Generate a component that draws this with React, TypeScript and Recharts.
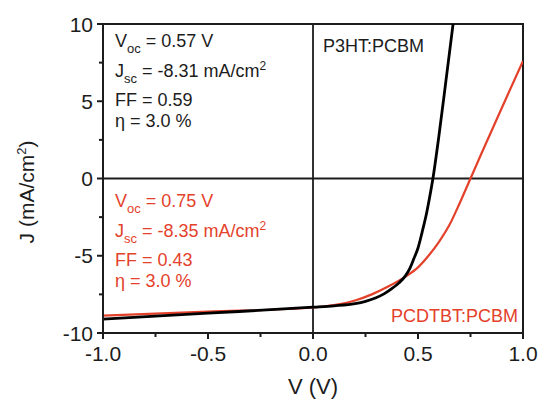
import { LineChart, Line, XAxis, YAxis, ReferenceLine, ReferenceArea } from 'recharts';

// P3HT:PCBM J-V curve (V in volts, J in mA/cm2)
const P3HT_V = [-1.0, -0.5, 0.0, 0.1, 0.2, 0.25, 0.3, 0.34, 0.38, 0.41, 0.44, 0.46, 0.48, 0.5, 0.52, 0.54, 0.555, 0.571, 0.6, 0.63, 0.667];
const P3HT_J = [-9.1, -8.72, -8.33, -8.24, -8.1, -7.95, -7.72, -7.45, -7.08, -6.75, -6.3, -5.85, -5.2, -4.5, -3.45, -2.3, -1.25, 0, 2.8, 6.0, 10];

// PCDTBT:PCBM J-V curve
const PCDTBT_V = [-1.0, -0.5, 0.0, 0.1, 0.2, 0.28, 0.36, 0.44, 0.5, 0.55, 0.6, 0.65, 0.7, 0.75, 0.8, 0.9, 1.0];
const PCDTBT_J = [-8.87, -8.62, -8.35, -8.2, -7.9, -7.5, -6.98, -6.35, -5.75, -5.0, -4.1, -3.0, -1.55, 0, 1.55, 4.6, 7.6];

const X_MAJOR = [-1.0, -0.5, 0.0, 0.5, 1.0];
const X_MINOR = [-0.75, -0.25, 0.25, 0.75];
const Y_MAJOR = [-10, -5, 0, 5, 10];
const Y_MINOR = [-7.5, -2.5, 2.5, 7.5];

const p3ht = P3HT_V.map((v, i) => ({ v, j: P3HT_J[i] }));
const pcdtbt = PCDTBT_V.map((v, i) => ({ v, j: PCDTBT_J[i] }));

const INK = '#1c1c1c';
const RED = '#e4412b';
const FONT = '"Liberation Sans", Arial, sans-serif';

const XTick = ({ x, y, payload }: any) => {
  const major = X_MAJOR.includes(payload.value);
  return (
    <g>
      <line x1={x} x2={x} y1={y} y2={y + (major ? 6 : 4)} stroke={INK} strokeWidth={2} />
      {major && (
        <text x={x} y={y + 28} textAnchor="middle" fontSize={21} fill={INK} fontFamily={FONT}>
          {payload.value.toFixed(1)}
        </text>
      )}
    </g>
  );
};

const YTick = ({ x, y, payload }: any) => {
  const major = Y_MAJOR.includes(payload.value);
  return (
    <g>
      <line x1={x - (major ? 6 : 4)} x2={x} y1={y} y2={y} stroke={INK} strokeWidth={2} />
      {major && (
        <text x={x - 10} y={y} dy="0.36em" textAnchor="end" fontSize={21} fill={INK} fontFamily={FONT}>
          {payload.value}
        </text>
      )}
    </g>
  );
};

const Stats = ({ x, y, color, voc, jsc, ff, eta }: any) => (
  <g fill={color} fontFamily={FONT} fontSize={18}>
    <text x={x} y={y}>
      V<tspan fontSize={13} dy={6}>oc</tspan>
      <tspan dy={-6}> = {voc} V</tspan>
    </text>
    <text x={x} y={y + 30}>
      J<tspan fontSize={13} dy={6}>sc</tspan>
      <tspan dy={-6}> = {jsc} mA/cm</tspan>
      <tspan fontSize={12} dy={-7}>2</tspan>
    </text>
    <text x={x} y={y + 59}>FF = {ff}</text>
    <text x={x} y={y + 80}>η = {eta} %</text>
  </g>
);

export default function App() {
  return (
    <div style={{ position: 'absolute', left: 0, top: 0, background: '#fff' }}>
      <LineChart width={539} height={400} margin={{ top: 24, right: 16, bottom: 0, left: 0 }}>
        <XAxis
          type="number"
          dataKey="v"
          domain={[-1, 1]}
          ticks={[...X_MAJOR, ...X_MINOR]}
          interval={0}
          allowDataOverflow
          height={67}
          tickSize={0}
          tickMargin={0}
          tickLine={false}
          axisLine={{ stroke: INK, strokeWidth: 2 }}
          tick={<XTick />}
        />
        <YAxis
          type="number"
          domain={[-10, 10]}
          ticks={[...Y_MAJOR, ...Y_MINOR]}
          interval={0}
          allowDataOverflow
          width={103}
          tickSize={0}
          tickMargin={0}
          tickLine={false}
          axisLine={{ stroke: INK, strokeWidth: 2 }}
          tick={<YTick />}
        />
        <ReferenceArea x1={-1} x2={1} y1={-10} y2={10} fill="none" stroke={INK} strokeWidth={2} />
        <ReferenceLine x={0} stroke={INK} strokeWidth={1.8} />
        <ReferenceLine y={0} stroke={INK} strokeWidth={1.8} />
        <Line
          data={pcdtbt}
          dataKey="j"
          type="monotone"
          stroke={RED}
          strokeWidth={2.2}
          dot={false}
          isAnimationActive={false}
        />
        <Line
          data={p3ht}
          dataKey="j"
          type="monotone"
          stroke="#000"
          strokeWidth={2.8}
          dot={false}
          isAnimationActive={false}
        />
        <Stats x={115} y={47} color={INK} voc="0.57" jsc="-8.31" ff="0.59" eta="3.0" />
        <Stats x={115} y={207} color={RED} voc="0.75" jsc="-8.35" ff="0.43" eta="3.0" />
        <text x={323} y={52} fontSize={18} fill={INK} fontFamily={FONT}>
          P3HT:PCBM
        </text>
        <text x={518} y={322} textAnchor="end" fontSize={18} fill={RED} fontFamily={FONT}>
          PCDTBT:PCBM
        </text>
        <text x={313} y={394} textAnchor="middle" fontSize={22} fill={INK} fontFamily={FONT}>
          V (V)
        </text>
        <text
          transform="translate(34,192) rotate(-90)"
          textAnchor="middle"
          fontSize={21}
          fill={INK}
          fontFamily={FONT}
        >
          J (mA/cm<tspan fontSize={13} dy={-8}>2</tspan>
          <tspan dy={8}>)</tspan>
        </text>
      </LineChart>
    </div>
  );
}
